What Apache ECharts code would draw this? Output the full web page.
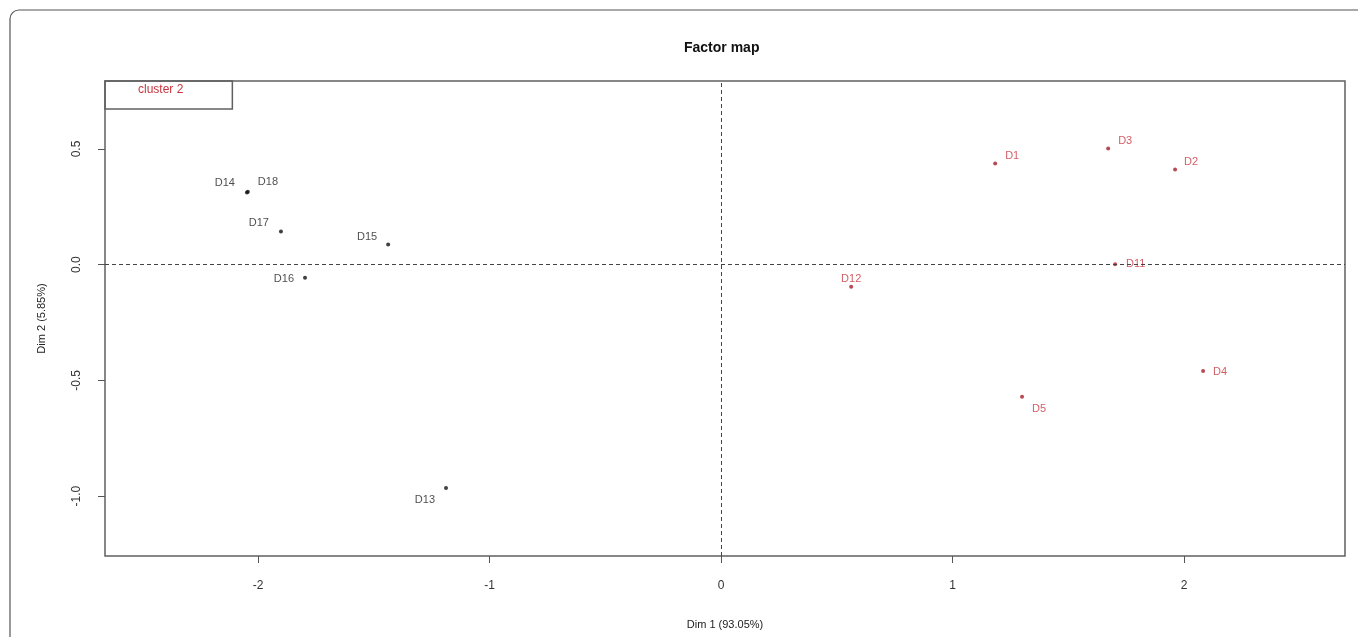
<!DOCTYPE html>
<html>
<head>
<meta charset="utf-8">
<script src="https://cdn.jsdelivr.net/npm/echarts@6/dist/echarts.min.js"></script>
<style>
  html, body { margin: 0; padding: 0; background: #fff; }
  #chart { width: 1358px; height: 637px; }
</style>
</head>
<body>
<div id="chart"></div>
<script>
// individuals on the first two dimensions
var names   = ['D14', 'D18', 'D17', 'D15', 'D16', 'D13', 'D1', 'D3', 'D2', 'D11', 'D12', 'D4', 'D5'];
var dim1    = [-2.048, -2.044, -1.901, -1.438, -1.797, -1.188, 1.184, 1.672, 1.961, 1.702, 0.562, 2.082, 1.300];
var dim2    = [0.312, 0.315, 0.143, 0.087, -0.056, -0.965, 0.437, 0.502, 0.411, 0.002, -0.095, -0.459, -0.571];
var cluster = [1, 1, 1, 1, 1, 1, 2, 2, 2, 2, 2, 2, 2];

var xTicks = [-2, -1, 0, 1, 2];
var yTicks = [-1, -0.5, 0, 0.5];

// where each label sits around its point
var labelPlace = {
  D14: ['left', 10, -10], D18: ['right', 8, -10], D17: ['left', 10, -9],
  D15: ['left', 9, -8],   D16: ['left', 9, 1],    D13: ['left', 9, 12],
  D1: ['right', 8, -8],   D3: ['right', 8, -8],   D2: ['right', 7, -8],
  D11: ['right', 9, 0],   D12: ['top', 0, 0],     D4: ['right', 8, 1],
  D5: ['right', 8, 12]
};

var colors = {1: {pt: '#111', txt: '#222'}, 2: {pt: '#a81c28', txt: '#c8343f'}};

function buildData(c) {
  var out = [];
  for (var i = 0; i < names.length; i++) {
    if (cluster[i] !== c) continue;
    var p = labelPlace[names[i]];
    out.push({
      name: names[i],
      value: [dim1[i], dim2[i]],
      label: { position: p[0], distance: p[1], offset: [0, p[2]] }
    });
  }
  return out;
}

function makeSeries(c) {
  return {
    name: 'cluster ' + c,
    type: 'scatter',
    symbol: 'circle',
    symbolSize: 4,
    itemStyle: { color: colors[c].pt },
    label: {
      show: true,
      formatter: '{b}',
      color: colors[c].txt,
      fontFamily: 'Liberation Sans, Arial, sans-serif',
      fontSize: 11
    },
    emphasis: { disabled: true },
    data: buildData(c)
  };
}

var chart = echarts.init(document.getElementById('chart'));

var s1 = makeSeries(1);
s1.markLine = {
  silent: true,
  symbol: 'none',
  label: { show: false },
  lineStyle: { color: '#444', width: 1, type: [4, 3] },
  data: [{ xAxis: 0 }, { yAxis: 0 }]
};

var option = {
  animation: false,
  textStyle: { fontFamily: 'Liberation Sans, Arial, sans-serif' },
  title: {
    text: 'Factor map',
    left: 679,
    top: 36,
    textStyle: { fontSize: 14, fontWeight: 'bold', color: '#111' }
  },
  legend: {
    data: ['cluster 2'],
    left: 105,
    top: 81,
    icon: 'none',
    itemWidth: 0,
    itemHeight: 10,
    padding: [3, 49, 13, 28],
    borderColor: '#606060',
    borderWidth: 1.5,
    selectedMode: false,
    textStyle: { color: '#c8343f', fontSize: 12 }
  },
  graphic: [{
    type: 'rect',
    shape: { x: 10, y: 10, width: 1400, height: 700, r: 9 },
    style: { fill: 'none', stroke: '#555', lineWidth: 1.2 },
    silent: true,
    z: -1
  }],
  grid: {
    left: 105, right: 13, top: 81, bottom: 81,
    show: true,
    borderColor: '#606060',
    borderWidth: 1.5
  },
  xAxis: {
    type: 'value',
    min: -2.661, max: 2.695,
    name: 'Dim 1 (93.05%)',
    nameLocation: 'middle',
    nameGap: 63,
    nameTextStyle: { fontSize: 11, color: '#222' },
    axisLine: { show: false, onZero: false },
    splitLine: { show: false },
    axisTick: { show: true, length: 7, customValues: xTicks, lineStyle: { color: '#555' } },
    axisLabel: { customValues: xTicks, margin: 24, fontSize: 12, color: '#333' }
  },
  yAxis: {
    type: 'value',
    min: -1.259, max: 0.794,
    name: 'Dim 2 (5.85%)',
    nameLocation: 'middle',
    nameGap: 58,
    nameTextStyle: { fontSize: 11, color: '#222' },
    axisLine: { show: false, onZero: false },
    splitLine: { show: false },
    axisTick: { show: true, length: 7, customValues: yTicks, lineStyle: { color: '#555' } },
    axisLabel: {
      customValues: yTicks,
      rotate: 90,
      margin: 22,
      fontSize: 12,
      color: '#333',
      formatter: function (v) { return v.toFixed(1); }
    }
  },
  series: [s1, makeSeries(2)]
};

chart.setOption(option);
</script>
</body>
</html>
